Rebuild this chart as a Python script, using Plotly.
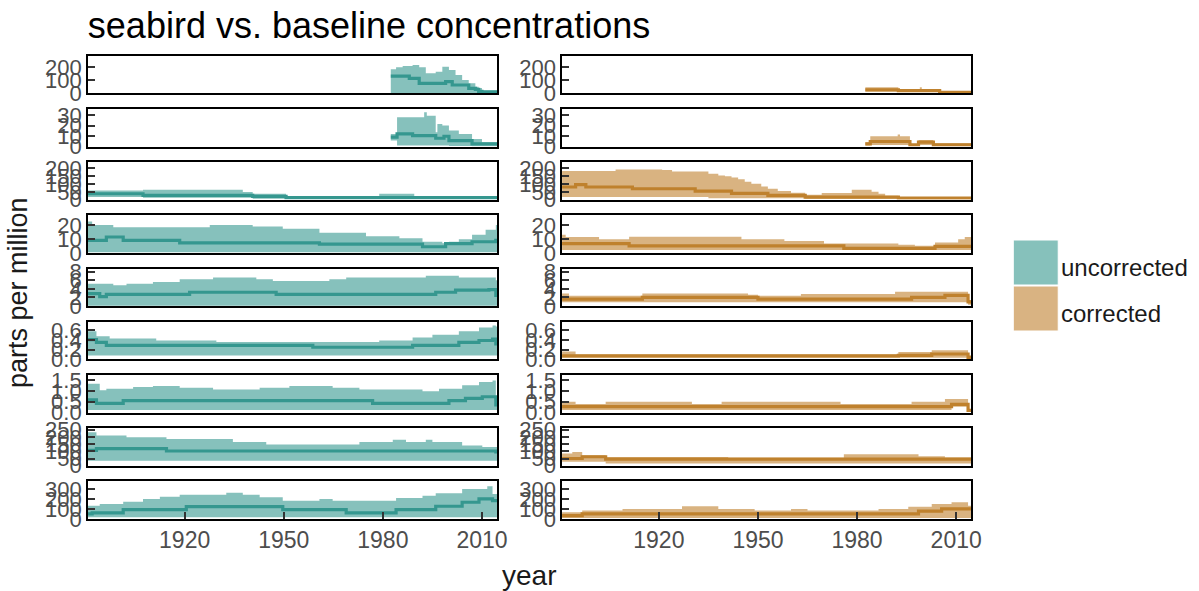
import plotly.graph_objects as go
from plotly.subplots import make_subplots

# ---------------- data: uncorrected (left column) ----------------
years_u1 = [1982.4, 1984, 1986, 1988, 1989, 1991, 1993, 1996, 1998, 1999, 2000, 2001, 2002, 2004, 2006, 2008, 2009, 2010, 2014.6]
hi_u1 = [185, 200, 210, 210, 218, 200, 154, 167, 205, 205, 180, 180, 141, 103, 77, 50, 40, 20, 20]
med_u1 = [133, 133, 133, 115, 115, 77, 77, 77, 77, 90, 90, 64, 64, 64, 38, 30, 15, 12, 12]
lo_u1 = [2] * 19

years_u2 = [1982.4, 1984.3, 1989, 1992.5, 1993.3, 1996, 1996.5, 1998, 1998.5, 2000, 2003, 2007, 2010, 2014.6]
hi_u2 = [12, 28, 28, 32.7, 29.5, 13.7, 21.6, 20, 20, 15.2, 12, 7.3, 4.1, 4.1]
med_u2 = [8.9, 12, 10.5, 10.5, 10.5, 7.9, 7.9, 7.9, 9.8, 5.7, 5.7, 2.5, 2.5, 2.5]
lo_u2 = [5.7, 1, 1, 1, 1, 1, 1, 1, 1, 0.5, 0.5, 0.3, 0.3, 0.3]

years_u3 = [1890.7, 1907.4, 1937.6, 1940.6, 1950.7, 1978.9, 1989.5, 2014.6]
hi_u3 = [59.5, 64, 49, 38, 23, 38, 17, 17]
med_u3 = [38, 28, 28, 21, 13, 13, 13, 13]
lo_u3 = [17, 13, 13, 6, 6, 6, 6, 6]

years_u4 = [1890.7, 1892, 1896.3, 1898.4, 1901.4, 1918.5, 1927.6, 1940.6, 1949.7, 1960.8, 1974.9, 1985, 1992, 1998, 1999, 2000, 2003, 2007, 2011.1, 2014.2, 2014.6]
hi_u4 = [22.5, 20, 20, 18.4, 18.4, 18.4, 20, 19, 17.4, 14.4, 12, 10.5, 8, 7, 7, 8, 9.8, 13, 16.7, 20, 20]
med_u4 = [9, 9, 11.4, 11.4, 9, 7.2, 7.2, 7.2, 7.2, 6.3, 6.3, 6.3, 4.4, 4.4, 6.7, 6.7, 6.7, 8, 8, 9, 9]
lo_u4 = [0.5] * 21

years_u5 = [1890.7, 1894.3, 1896.3, 1898.4, 1902.4, 1910.4, 1918.5, 1921.5, 1928.6, 1941.7, 1946.7, 1947.7, 1963.8, 1968.9, 1993, 1996, 2002, 2003, 2012.1, 2014.2, 2014.6]
hi_u5 = [5.2, 5.2, 5.2, 4.8, 5.2, 5.6, 6.2, 6.2, 6.6, 6.2, 5.8, 5.8, 6.2, 6.6, 7.0, 7.0, 7.0, 6.6, 6.6, 6.0, 6.0]
med_u5 = [2.9, 2.2, 2.7, 2.7, 2.7, 2.7, 2.7, 3.2, 3.2, 3.2, 3.2, 2.7, 2.7, 2.7, 2.7, 3.2, 3.7, 3.7, 3.8, 2.5, 2.5]
lo_u5 = [0.1] * 21

years_u6 = [1890.7, 1893.3, 1896.3, 1897.3, 1911.4, 1929.6, 1958.8, 1978.9, 1989, 1995, 2003, 2009.1, 2013.2, 2014.2, 2014.6]
hi_u6 = [0.58, 0.48, 0.48, 0.43, 0.39, 0.36, 0.36, 0.39, 0.45, 0.51, 0.58, 0.66, 0.70, 0.68, 0.68]
med_u6 = [0.41, 0.35, 0.29, 0.29, 0.29, 0.29, 0.25, 0.25, 0.29, 0.29, 0.35, 0.39, 0.42, 0.32, 0.32]
lo_u6 = [0.08] * 15

years_u7 = [1890.7, 1893.3, 1894.3, 1896.3, 1901.4, 1904.4, 1910.4, 1918.5, 1928.6, 1942.7, 1951.7, 1964.8, 1972.9, 1976.9, 1992, 1997, 2000, 2004, 2005, 2009.1, 2010.1, 2013.2, 2014.2, 2014.6]
hi_u7 = [1.33, 1.33, 1.03, 1.10, 1.10, 1.18, 1.23, 1.14, 1.06, 1.14, 1.23, 1.15, 1.06, 1.06, 0.98, 1.10, 1.10, 1.26, 1.26, 1.41, 1.41, 1.48, 0.6, 0.6]
med_u7 = [0.58, 0.42, 0.42, 0.42, 0.55, 0.55, 0.55, 0.55, 0.55, 0.55, 0.55, 0.55, 0.55, 0.42, 0.42, 0.42, 0.55, 0.55, 0.65, 0.65, 0.73, 0.73, 0.35, 0.35]
lo_u7 = [0.12] * 24

years_u8 = [1890.7, 1893.3, 1902.4, 1914.5, 1934.6, 1944.7, 1972.9, 1983, 1987, 1993, 1995, 2004, 2010.1, 2014.2, 2014.6]
hi_u8 = [232, 209, 198, 186, 164, 148, 164, 180, 164, 180, 164, 141, 130, 130, 130]
med_u8 = [107, 118, 118, 102, 102, 102, 102, 102, 102, 102, 102, 102, 102, 95, 95]
lo_u8 = [34] * 15

years_u9 = [1890.7, 1892, 1894.3, 1901.4, 1907.4, 1912.5, 1918.5, 1920.5, 1932.6, 1937.6, 1942.7, 1949.7, 1960.8, 1964.8, 1968.9, 1984, 1992, 1996, 2004, 2009.1, 2011.6, 2013.2, 2014.6]
hi_u9 = [133, 133, 150, 173, 200, 223, 243, 243, 263, 243, 217, 183, 200, 183, 183, 210, 233, 257, 300, 300, 327, 250, 250]
med_u9 = [50, 60, 60, 93, 93, 93, 93, 123, 123, 123, 123, 93, 93, 93, 60, 93, 93, 127, 167, 200, 200, 183, 183]
lo_u9 = [17] * 23

# ---------------- data: corrected (right column) ----------------
years_c1 = [1982.5, 1992.5, 1999, 1999.6, 2005, 2014.6]
hi_c1 = [46, 31, 46, 31, 15, 15]
med_c1 = [26, 20, 20, 20, 8, 8]
lo_c1 = [13, 10, 10, 10, 3, 3]

years_c2 = [1982.5, 1984, 1992.3, 1993, 1996, 1998.6, 2003.1, 2014.6]
hi_c2 = [4.1, 9.8, 11.4, 9.8, 2.5, 6.3, 3.2, 3.2]
med_c2 = [2.5, 4.8, 4.8, 4.8, 1.5, 4.1, 1.6, 1.6]
lo_c2 = [1, 1.5, 1.5, 1.5, 0.8, 1.5, 0.5, 0.5]

years_c3 = [1890.7, 1894.8, 1897.9, 1906.9, 1912, 1921, 1924, 1931, 1935, 1938, 1940, 1942, 1944, 1946, 1948, 1951, 1953, 1956, 1960, 1964.3, 1969.3, 1978.4, 1984.4, 1986.5, 1988.5, 1992.5, 1993.5, 2014.6]
hi_c3 = [183, 183, 183, 193, 193, 189, 180, 180, 166, 155, 150, 142, 130, 115, 102, 85, 70, 55, 45, 32, 42, 64, 50, 38, 25, 17, 13, 13]
med_c3 = [81, 96, 81, 81, 70, 70, 70, 55, 55, 55, 55, 40, 40, 40, 40, 40, 28, 28, 28, 17, 17, 17, 17, 17, 17, 11, 11, 11]
lo_c3 = [17] * 8 + [10] * 11 + [6] * 9

years_c4 = [1890.7, 1891.8, 1901.9, 1911, 1945, 1958, 1970, 1976, 1992.5, 1997.5, 2003.6, 2010.6, 2012.6, 2014.6]
hi_c4 = [13, 11.4, 9.8, 11.6, 9.8, 8.6, 6.7, 6.7, 5.8, 5.1, 7.4, 9.8, 11.4, 11.4]
med_c4 = [6.7, 6.7, 6.7, 5.1, 5.1, 5.1, 5.1, 3.3, 3.3, 3.3, 4.7, 4.7, 4.7, 4.7]
lo_c4 = [2] * 14

years_c5 = [1890.7, 1892.8, 1915, 1947, 1950, 1963, 1991.5, 1996.5, 2006.6, 2013.6, 2014.6]
hi_c5 = [2.9, 2.4, 2.9, 2.6, 2.4, 2.8, 3.3, 3.3, 3.3, 1.4, 1.4]
med_c5 = [1.6, 1.6, 2.0, 2.0, 1.6, 1.6, 1.6, 2.0, 2.5, 1.0, 1.0]
lo_c5 = [0.9] * 9 + [0.3, 0.3]

years_c6 = [1890.7, 1894.8, 1992.5, 2002.6, 2013.6, 2014.6]
hi_c6 = [0.16, 0.10, 0.15, 0.19, 0.08, 0.08]
med_c6 = [0.07, 0.07, 0.08, 0.11, 0.04, 0.04]
lo_c6 = [0.03] * 6

years_c7 = [1890.7, 1894.8, 1903.9, 1930, 1939, 1975, 1996.5, 2006.6, 2008.6, 2013.6, 2014.6]
hi_c7 = [0.5, 0.39, 0.5, 0.39, 0.5, 0.39, 0.5, 0.62, 0.62, 0.15, 0.15]
med_c7 = [0.27, 0.27, 0.27, 0.27, 0.27, 0.27, 0.27, 0.27, 0.38, 0.1, 0.1]
lo_c7 = [0.12] * 8 + [0.27, 0.05, 0.05]

years_c8 = [1890.7, 1893.8, 1896.8, 1903.9, 1941, 1976, 1998.6, 2006.6, 2014.6]
hi_c8 = [84, 95, 73, 61, 56, 80, 66, 57, 57]
med_c8 = [50, 50, 62, 46, 46, 46, 46, 46, 46]
lo_c8 = [27, 27, 27, 16, 16, 16, 16, 16, 16]

years_c9 = [1890.7, 1896.8, 1909, 1927, 1938, 1949, 1960, 1965, 1986.5, 1995.5, 1998.6, 2002.6, 2005.6, 2008.6, 2013.6, 2014.6]
hi_c9 = [67, 83, 100, 127, 100, 83, 100, 83, 100, 123, 123, 150, 150, 167, 133, 133]
med_c9 = [33, 50, 50, 50, 50, 50, 50, 50, 50, 50, 77, 77, 100, 100, 100, 100]
lo_c9 = [10] * 16

# ---------------- axes ----------------
y_max = [290, 36, 240, 27, 8.7, 0.78, 1.74, 261, 377]
y_ticks = [[0, 100, 200], [0, 10, 20, 30], [0, 50, 100, 150, 200], [0, 10, 20],
           [0, 2, 4, 6, 8], [0, 0.2, 0.4, 0.6], [0, 0.5, 1.0, 1.5],
           [0, 50, 100, 150, 200, 250], [0, 100, 200, 300]]
y_ticktext = [["0", "100", "200"], ["0", "10", "20", "30"], ["0", "50", "100", "150", "200"],
              ["0", "10", "20"], ["0", "2", "4", "6", "8"], ["0.0", "0.2", "0.4", "0.6"],
              ["0.0", "0.5", "1.0", "1.5"], ["0", "50", "100", "150", "200", "250"],
              ["0", "100", "200", "300"]]
x_ticks = [1920, 1950, 1980, 2010]
x_range = [1890.7, 2014.6]

series_names = ["uncorrected", "corrected"]
line_colors = ["#35978f", "#bf812d"]
fill_colors = ["rgba(53,151,143,0.6)", "rgba(191,129,45,0.6)"]
legend_swatch = ["#86c1bb", "#d9b382"]

panels = [
    [(years_u1, lo_u1, med_u1, hi_u1), (years_c1, lo_c1, med_c1, hi_c1)],
    [(years_u2, lo_u2, med_u2, hi_u2), (years_c2, lo_c2, med_c2, hi_c2)],
    [(years_u3, lo_u3, med_u3, hi_u3), (years_c3, lo_c3, med_c3, hi_c3)],
    [(years_u4, lo_u4, med_u4, hi_u4), (years_c4, lo_c4, med_c4, hi_c4)],
    [(years_u5, lo_u5, med_u5, hi_u5), (years_c5, lo_c5, med_c5, hi_c5)],
    [(years_u6, lo_u6, med_u6, hi_u6), (years_c6, lo_c6, med_c6, hi_c6)],
    [(years_u7, lo_u7, med_u7, hi_u7), (years_c7, lo_c7, med_c7, hi_c7)],
    [(years_u8, lo_u8, med_u8, hi_u8), (years_c8, lo_c8, med_c8, hi_c8)],
    [(years_u9, lo_u9, med_u9, hi_u9), (years_c9, lo_c9, med_c9, hi_c9)],
]

W, H = 1199, 591
WX = 1191.0  # effective horizontal extent used for placement
FONT = "Liberation Sans, Arial, sans-serif"
TICKCOL = "#4d4d4d"

fig = make_subplots(rows=9, cols=2)

for r in range(9):
    for c in range(2):
        yrs, lo, med, hi = panels[r][c]
        fig.add_trace(go.Scatter(x=yrs, y=lo, mode="lines", line=dict(width=0, shape="hv"),
                                 hoverinfo="skip", showlegend=False), row=r + 1, col=c + 1)
        fig.add_trace(go.Scatter(x=yrs, y=hi, mode="lines", line=dict(width=0, shape="hv"),
                                 fill="tonexty", fillcolor=fill_colors[c],
                                 name=series_names[c], showlegend=False), row=r + 1, col=c + 1)
        fig.add_trace(go.Scatter(x=yrs, y=med, mode="lines",
                                 line=dict(width=3.2, color=line_colors[c], shape="hv"),
                                 name=series_names[c], showlegend=False), row=r + 1, col=c + 1)

x_domains = [[88 / WX, 498 / WX], [563 / WX, 973 / WX]]
for r in range(9):
    top = 55.7 + 53.2 * r
    bot = top + 37.6
    ydom = [1 - bot / H, 1 - top / H]
    for c in range(2):
        last = (r == 8)
        fig.update_xaxes(domain=x_domains[c], range=x_range, tickvals=x_ticks,
                         showticklabels=last, ticks="inside" if last else "",
                         ticklen=7, tickwidth=1.5, tickcolor="#333333",
                         showline=True, mirror=True, linecolor="black", linewidth=1.5,
                         showgrid=False, zeroline=False,
                         tickfont=dict(family=FONT, size=23, color=TICKCOL),
                         row=r + 1, col=c + 1)
        fig.update_yaxes(domain=ydom, range=[0, y_max[r]], tickvals=y_ticks[r],
                         ticktext=y_ticktext[r], ticks="inside", ticklen=7, tickwidth=1.5,
                         tickcolor="#333333", showline=True, mirror=True, linecolor="black",
                         linewidth=1.5, showgrid=False, zeroline=False, automargin=False,
                         tickfont=dict(family=FONT, size=22, color=TICKCOL),
                         row=r + 1, col=c + 1)

# legend drawn as keys + labels
legend_tops = [240, 286]
shapes = []
annotations = []
for i in range(2):
    t = legend_tops[i]
    shapes.append(dict(type="rect", xref="paper", yref="paper",
                       x0=1015 / WX, x1=1060 / WX, y0=1 - (t + 45) / H, y1=1 - t / H,
                       fillcolor=legend_swatch[i], line=dict(width=1, color="white")))
    annotations.append(dict(text=series_names[i], xref="paper", yref="paper",
                            x=1061 / WX, y=1 - (t + 27) / H, xanchor="left", yanchor="middle",
                            showarrow=False, font=dict(family=FONT, size=24, color="#1a1a1a")))

annotations.append(dict(text="year", xref="paper", yref="paper", x=530 / WX, y=1 - 575 / H,
                        xanchor="center", yanchor="middle", showarrow=False,
                        font=dict(family=FONT, size=28, color="#1a1a1a")))
annotations.append(dict(text="parts per million", xref="paper", yref="paper", x=18 / WX,
                        y=1 - 292 / H, xanchor="center", yanchor="middle", textangle=-90,
                        showarrow=False, font=dict(family=FONT, size=27, color="#1a1a1a")))

fig.update_layout(
    width=W, height=H,
    margin=dict(l=0, r=0, t=0, b=0),
    paper_bgcolor="white", plot_bgcolor="white",
    showlegend=False,
    title=dict(text="seabird vs. baseline concentrations", xref="paper", x=88 / WX,
               xanchor="left", yref="container", y=1 - 25 / H, yanchor="middle",
               font=dict(family=FONT, size=36, color="black")),
    shapes=shapes, annotations=annotations,
)

fig.write_html("out.html")
